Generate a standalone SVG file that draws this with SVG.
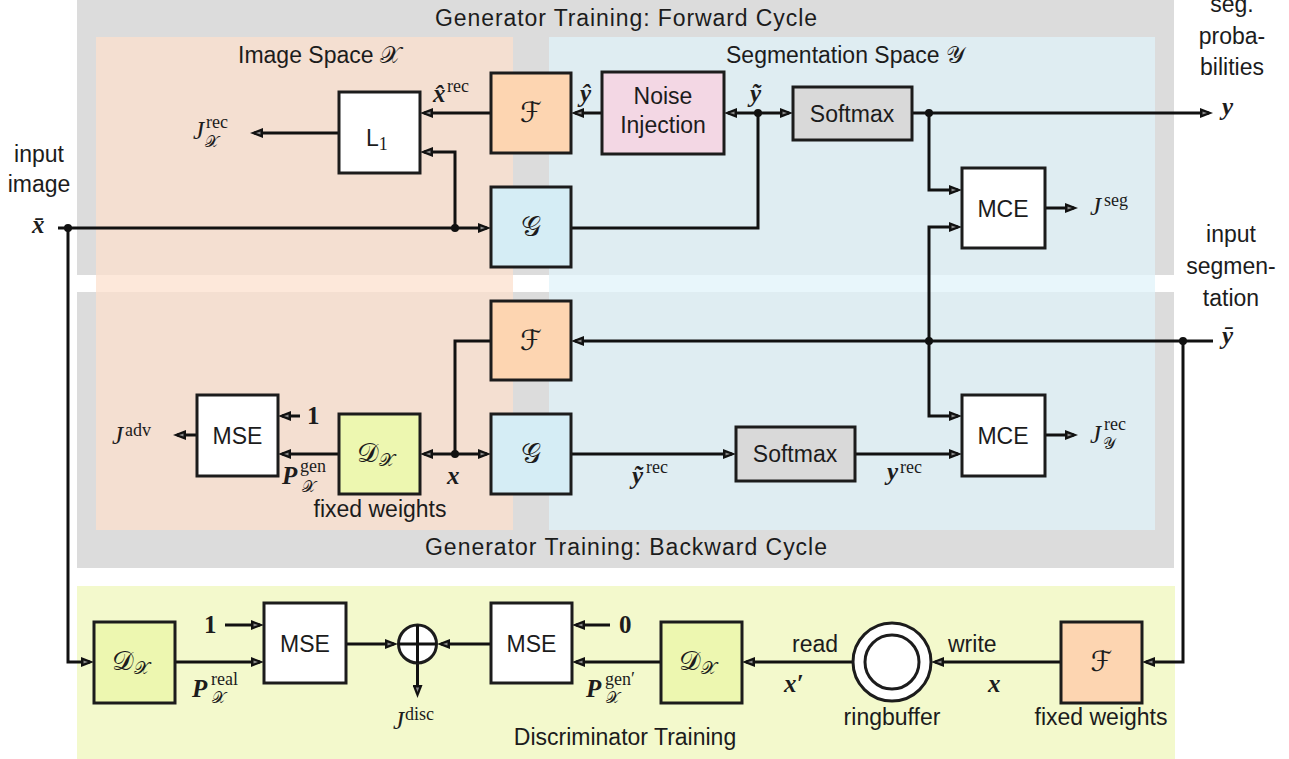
<svg xmlns="http://www.w3.org/2000/svg" width="1289" height="759" viewBox="0 0 1289 759">
<style>
.panel{fill:#dcdcdc}
.box{stroke:#1c1c1c;stroke-width:3}
.w{fill:#fff}.fo{fill:#fdd5b1}.gb{fill:#d5edf5}.dl{fill:#edf7b0}.sm{fill:#d9d9d9}.ni{fill:#f3d7e4}
.t{font-family:"Liberation Sans",Arial,sans-serif;font-size:23px;fill:#1c1c1c}
.c{text-anchor:middle}
.m{font-family:"Liberation Serif",serif;font-style:italic;font-size:25px;fill:#1c1c1c}
.mb{font-family:"Liberation Serif",serif;font-style:italic;font-weight:bold;font-size:25px;fill:#1c1c1c}
.nb{font-family:"Liberation Serif",serif;font-weight:bold;font-size:25px;fill:#1c1c1c}
.s{font-family:"Liberation Serif",serif;font-size:18px;fill:#1c1c1c}
.cal{font-family:"DejaVu Serif","DejaVu Sans","Noto Sans",serif;fill:#1c1c1c}
.wire{fill:none;stroke:#111;stroke-width:3;stroke-linejoin:miter}
.arr{marker-end:url(#ah)}
.dot{fill:#111}
</style>
<defs>
<marker id="ah" viewBox="0 0 13 10" refX="9" refY="5" markerWidth="13" markerHeight="10" markerUnits="userSpaceOnUse" orient="auto">
<path d="M0,0 L13,5 L0,10 z" fill="#111"/>
<path d="M2.5,3.4 L7,5 L2.5,6.6 z" fill="#8a8a8a"/>
</marker>
</defs>

<g id="backgrounds">
<rect class="panel" x="77" y="-5" width="1097" height="280"/>
<rect class="panel" x="77" y="292" width="1097" height="276"/>
<rect x="96" y="37" width="417" height="493" fill="#fce0cd" fill-opacity="0.74"/>
<rect x="549" y="37" width="606" height="493" fill="#e0f3fa" fill-opacity="0.74"/>
<rect x="77" y="586" width="1098" height="175" fill="#f3f9cc"/>
<text class="t c" x="626" y="26" textLength="382" lengthAdjust="spacing">Generator Training: Forward Cycle</text>
<text class="t c" x="626" y="555" textLength="402" lengthAdjust="spacing">Generator Training: Backward Cycle</text>
<text class="t c" x="625" y="745">Discriminator Training</text>
<text class="t" x="238" y="63">Image Space <tspan class="cal" font-size="24">𝒳</tspan></text>
<text class="t" x="726" y="63">Segmentation Space <tspan class="cal" font-size="24">𝒴</tspan></text>
</g>

<g id="connectors">
<path class="wire arr" d="M58,228 H487"/>
<path class="wire arr" d="M455,228 V152 H424"/>
<path class="wire arr" d="M491,113 H424"/>
<path class="wire arr" d="M339,133 H254"/>
<path class="wire arr" d="M602,113 H575"/>
<path class="wire" d="M571,228 H758 V113"/>
<path class="wire arr" d="M758,113 H728"/>
<path class="wire arr" d="M758,113 H789"/>
<path class="wire arr" d="M912,113 H1209"/>
<path class="wire arr" d="M929,113 V190 H958"/>
<path class="wire arr" d="M929,341 V227 H958"/>
<path class="wire arr" d="M929,341 V416 H958"/>
<path class="wire arr" d="M1045,208 H1074"/>
<path class="wire arr" d="M1213,341 H575"/>
<path class="wire arr" d="M1183,341 V662 H1146"/>
<path class="wire" d="M491,341 H455 V454"/>
<path class="wire arr" d="M455,454 H487"/>
<path class="wire arr" d="M455,454 H424"/>
<path class="wire arr" d="M339,454 H282"/>
<path class="wire arr" d="M300,416 H282"/>
<path class="wire arr" d="M197,435 H177"/>
<path class="wire arr" d="M571,454 H732"/>
<path class="wire arr" d="M855,454 H958"/>
<path class="wire arr" d="M1045,435 H1074"/>
<path class="wire arr" d="M68,228 V662 H90"/>
<path class="wire arr" d="M175,662 H260"/>
<path class="wire arr" d="M225,625 H260"/>
<path class="wire arr" d="M346,644 H394"/>
<path class="wire arr" d="M491,644 H441"/>
<path class="wire arr" d="M417.5,663 V694"/>
<path class="wire arr" d="M610,625 H576"/>
<path class="wire arr" d="M661,662 H576"/>
<path class="wire arr" d="M853,662 H746"/>
<path class="wire arr" d="M1061,662 H935"/>
<circle class="dot" cx="68" cy="228" r="4"/>
<circle class="dot" cx="455" cy="228" r="4"/>
<circle class="dot" cx="758" cy="113" r="4"/>
<circle class="dot" cx="929" cy="113" r="4"/>
<circle class="dot" cx="929" cy="341" r="4"/>
<circle class="dot" cx="1183" cy="341" r="4"/>
<circle class="dot" cx="455" cy="454" r="4"/>
</g>

<g id="L1"><rect class="box w" x="339" y="92" width="81" height="81"/><text class="t" x="366" y="146" font-size="24">L<tspan class="s" font-size="17" dy="4">1</tspan></text></g>
<g id="F-fwd"><rect class="box fo" x="491" y="73" width="80" height="80"/><text class="cal c" x="531" y="122" font-size="28">ℱ</text></g>
<g id="G-fwd"><rect class="box gb" x="491" y="187" width="80" height="80"/><text class="cal c" x="531" y="236" font-size="28">𝒢</text></g>
<g id="noise"><rect class="box ni" x="602" y="72" width="122" height="82"/><text class="t c" x="663" y="104">Noise</text><text class="t c" x="663" y="133">Injection</text></g>
<g id="softmax-fwd"><rect class="box sm" x="793" y="87" width="119" height="53"/><text class="t c" x="852" y="122">Softmax</text></g>
<g id="MCE-fwd"><rect class="box w" x="962" y="168" width="83" height="80"/><text class="t c" x="1003" y="217">MCE</text></g>
<g id="F-bwd"><rect class="box fo" x="491" y="301" width="80" height="79"/><text class="cal c" x="531" y="350" font-size="28">ℱ</text></g>
<g id="G-bwd"><rect class="box gb" x="491" y="414" width="80" height="80"/><text class="cal c" x="531" y="463" font-size="28">𝒢</text></g>
<g id="softmax-bwd"><rect class="box sm" x="736" y="427" width="119" height="54"/><text class="t c" x="795" y="462">Softmax</text></g>
<g id="MCE-bwd"><rect class="box w" x="962" y="395" width="83" height="81"/><text class="t c" x="1003" y="444">MCE</text></g>
<g id="D-fixed"><rect class="box dl" x="339" y="414" width="81" height="80"/><text class="cal" x="357" y="462" font-size="27">𝒟<tspan font-size="18" dy="4">𝒳</tspan></text></g>
<g id="MSE-adv"><rect class="box w" x="197" y="395" width="81" height="81"/><text class="t c" x="237.5" y="444">MSE</text></g>
<g id="D-real"><rect class="box dl" x="94" y="622" width="81" height="81"/><text class="cal" x="112" y="670" font-size="27">𝒟<tspan font-size="18" dy="4">𝒳</tspan></text></g>
<g id="MSE-real"><rect class="box w" x="264" y="603" width="82" height="80"/><text class="t c" x="305" y="652">MSE</text></g>
<g id="sum"><circle class="box w" cx="417.5" cy="644" r="19"/><path class="wire" d="M417.5,625 V663 M398.5,644 H436.5"/></g>
<g id="MSE-gen"><rect class="box w" x="491" y="603" width="81" height="80"/><text class="t c" x="531.5" y="652">MSE</text></g>
<g id="D-gen"><rect class="box dl" x="661" y="622" width="81" height="81"/><text class="cal" x="679" y="670" font-size="27">𝒟<tspan font-size="18" dy="4">𝒳</tspan></text></g>
<g id="ringbuffer"><circle class="box w" cx="892" cy="662" r="39"/><circle class="box w" cx="892" cy="662" r="27"/></g>
<g id="F-fixed"><rect class="box fo" x="1061" y="622" width="81" height="81"/><text class="cal c" x="1101.5" y="671" font-size="28">ℱ</text></g>

<g id="labels">
<text class="t c" x="39" y="162">input</text>
<text class="t c" x="39" y="192">image</text>
<text class="mb" x="32" y="233">x̄</text>
<text class="t c" x="1232" y="12">seg.</text>
<text class="t c" x="1232" y="44">proba-</text>
<text class="t c" x="1232" y="75">bilities</text>
<text class="mb" x="1222" y="115">y</text>
<text class="t c" x="1231" y="242">input</text>
<text class="t c" x="1231" y="274">segmen-</text>
<text class="t c" x="1231" y="306">tation</text>
<text class="mb" x="1222" y="344">ȳ</text>
<text class="m" x="193" y="139">J</text><text class="s" x="206" y="128">rec</text><text class="cal" x="205" y="147" font-size="16">𝒳</text>
<text class="mb" x="433" y="102">x̂</text><text class="s" x="447" y="92">rec</text>
<text class="mb" x="580" y="102">ŷ</text>
<text class="mb" x="750" y="102">ỹ</text>
<text class="m" x="1090" y="215">J</text><text class="s" x="1104" y="206">seg</text>
<text class="nb" x="307" y="424">1</text>
<text class="m" x="112" y="444">J</text><text class="s" x="125" y="436">adv</text>
<text class="mb" x="282" y="484">P</text><text class="s" x="300" y="472">gen</text><text class="cal" x="302" y="492" font-size="16">𝒳</text>
<text class="t c" x="380" y="517">fixed weights</text>
<text class="mb" x="447" y="484">x</text>
<text class="mb" x="632" y="484">ỹ</text><text class="s" x="646" y="473">rec</text>
<text class="mb" x="887" y="480">y</text><text class="s" x="900" y="473">rec</text>
<text class="m" x="1090" y="443">J</text><text class="s" x="1104" y="430">rec</text><text class="cal" x="1103" y="449" font-size="16">𝒴</text>
<text class="nb" x="204" y="633">1</text>
<text class="mb" x="192" y="697">P</text><text class="s" x="211" y="685">real</text><text class="cal" x="212" y="703" font-size="16">𝒳</text>
<text class="m" x="393" y="729">J</text><text class="s" x="405" y="720">disc</text>
<text class="nb" x="619" y="633">0</text>
<text class="mb" x="586" y="697">P</text><text class="s" x="605" y="685">gen′</text><text class="cal" x="606" y="703" font-size="16">𝒳</text>
<text class="t" x="792" y="652">read</text>
<text class="mb" x="784" y="692">x′</text>
<text class="t" x="948" y="652">write</text>
<text class="mb" x="988" y="692">x</text>
<text class="t c" x="892" y="725">ringbuffer</text>
<text class="t c" x="1101" y="725">fixed weights</text>
</g>
</svg>
